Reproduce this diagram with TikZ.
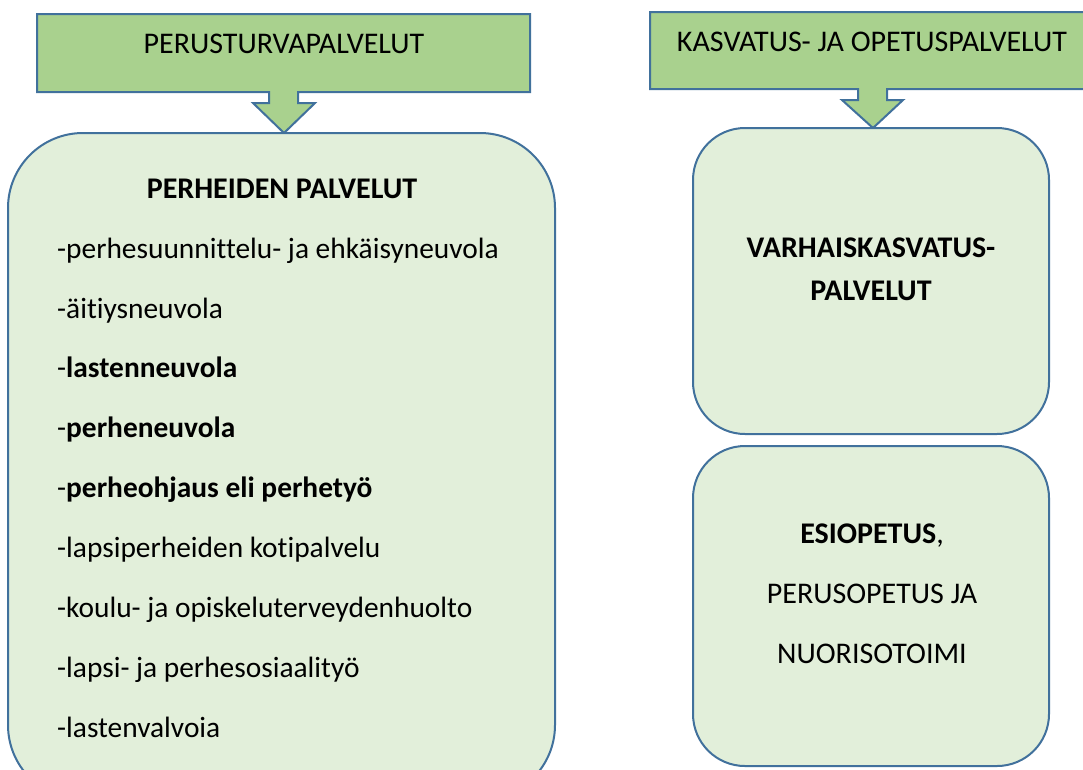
\documentclass[tikz,border=0pt]{standalone}
\usepackage{fontspec}
\setmainfont[Ligatures={NoCommon,NoRare}]{Carlito}
\definecolor{calloutfill}{HTML}{A9D18E}
\definecolor{boxfill}{HTML}{E2EFDA}
\definecolor{edge}{HTML}{41719C}
\tikzset{
  callout/.style={draw=edge, line width=2pt, fill=calloutfill, line join=miter},
  roundbox/.style={draw=edge, line width=2pt, fill=boxfill},
  txt/.style={inner sep=0pt, font=\fontsize{30}{36}\selectfont},
  item/.style={inner sep=0pt, font=\fontsize{29.4}{35}\selectfont, anchor=base west},
  ctr/.style={txt, anchor=base},
}
\begin{document}
\begin{tikzpicture}[x=1pt,y=-1pt]
\clip (0,0) rectangle (1083,769);
\fill[white] (0,0) rectangle (1083,769);
% left callout
\draw[callout] (37,14) -- (530,14) -- (530,92) -- (298,92) -- (298,103) -- (315,103) -- (284,133) -- (253,103) -- (269,103) -- (269,92) -- (37,92) -- cycle;
\node[ctr] (h1) at (284,53) {PERUSTURVAPALVELUT};
% right callout
\draw[callout] (650,12) -- (1095,12) -- (1095,89) -- (887,89) -- (887,100) -- (903,100) -- (873,128) -- (842,100) -- (858,100) -- (858,89) -- (650,89) -- cycle;
\node[ctr] (h2) at (872,51) {KASVATUS- JA OPETUSPALVELUT};
% left big box
\draw[roundbox, rounded corners=75pt] (8,133) rectangle (555,800);
\node[ctr] (t0) at (282,198) {\textbf{PERHEIDEN PALVELUT}};
\node[item] (t1) at (57,258) {-perhesuunnittelu- ja ehkäisyneuvola};
\node[item] (t2) at (57,318) {-äitiysneuvola};
\node[item] (t3) at (57,377) {-\textbf{lastenneuvola}};
\node[item] (t4) at (57,437) {-\textbf{perheneuvola}};
\node[item] (t5) at (57,497) {-\textbf{perheohjaus eli perhetyö}};
\node[item] (t6) at (57,557) {-lapsiperheiden kotipalvelu};
\node[item] (t7) at (57,617) {-koulu- ja opiskeluterveydenhuolto};
\node[item] (t8) at (57,677) {-lapsi- ja perhesosiaalityö};
\node[item] (t9) at (57,737) {-lastenvalvoia};
% right boxes
\draw[roundbox, rounded corners=52pt] (693,128) rectangle (1049,434);
\node[ctr] (r1) at (871,257) {\textbf{VARHAISKASVATUS-}};
\node[ctr] (r2) at (871,300) {\textbf{PALVELUT}};
\draw[roundbox, rounded corners=52pt] (693,446) rectangle (1049,766);
\node[ctr] (s1) at (872,543) {\textbf{ESIOPETUS},};
\node[ctr] (s2) at (872,603) {PERUSOPETUS JA};
\node[ctr] (s3) at (872,663) {NUORISOTOIMI};
\end{tikzpicture}
\end{document}
